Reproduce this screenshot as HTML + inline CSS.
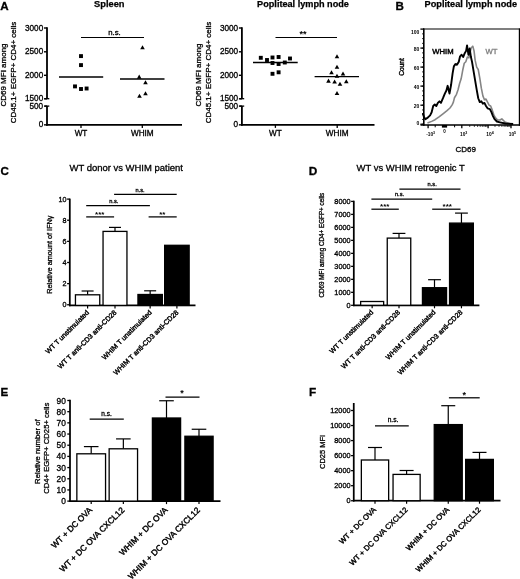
<!DOCTYPE html>
<html><head><meta charset="utf-8"><title>Figure</title>
<style>
html,body{margin:0;padding:0;background:#fff;}
svg{display:block;font-family:"Liberation Sans", sans-serif;}
</style></head><body>
<svg width="520" height="579" viewBox="0 0 520 579">
<rect x="0" y="0" width="520" height="579" fill="#fff"/>
<text x="0.2" y="10.3" font-size="11.6" text-anchor="start" font-weight="bold" fill="#000" stroke="#000" stroke-width="0.3">A</text>
<text x="109.3" y="6.8" font-size="9.3" text-anchor="middle" font-weight="bold" fill="#000" stroke="#000" stroke-width="0.25">Spleen</text>
<text x="303" y="6.8" font-size="9.15" text-anchor="middle" font-weight="bold" fill="#000" stroke="#000" stroke-width="0.25">Popliteal lymph node</text>
<line x1="47" y1="27.2" x2="47" y2="98.7" stroke="#000" stroke-width="1.8"/>
<line x1="47" y1="106.1" x2="47" y2="125.7" stroke="#000" stroke-width="1.8"/>
<line x1="46.1" y1="124.85" x2="182" y2="124.85" stroke="#000" stroke-width="1.7"/>
<line x1="44" y1="28" x2="47" y2="28" stroke="#000" stroke-width="1.4"/>
<text x="43.2" y="30.6" font-size="8.2" text-anchor="end" font-weight="normal" fill="#000" stroke="#000" stroke-width="0.3">3000</text>
<line x1="44" y1="51.8" x2="47" y2="51.8" stroke="#000" stroke-width="1.4"/>
<text x="43.2" y="54.4" font-size="8.2" text-anchor="end" font-weight="normal" fill="#000" stroke="#000" stroke-width="0.3">2500</text>
<line x1="44" y1="75.3" x2="47" y2="75.3" stroke="#000" stroke-width="1.4"/>
<text x="43.2" y="77.89999999999999" font-size="8.2" text-anchor="end" font-weight="normal" fill="#000" stroke="#000" stroke-width="0.3">2000</text>
<line x1="44" y1="98.8" x2="47" y2="98.8" stroke="#000" stroke-width="1.4"/>
<text x="43.2" y="101.39999999999999" font-size="8.2" text-anchor="end" font-weight="normal" fill="#000" stroke="#000" stroke-width="0.3">1500</text>
<line x1="44" y1="106.1" x2="47" y2="106.1" stroke="#000" stroke-width="1.4"/>
<text x="43.2" y="108.69999999999999" font-size="8.2" text-anchor="end" font-weight="normal" fill="#000" stroke="#000" stroke-width="0.3">500</text>
<line x1="44" y1="124.85" x2="47" y2="124.85" stroke="#000" stroke-width="1.4"/>
<text x="43.2" y="127.44999999999999" font-size="8.2" text-anchor="end" font-weight="normal" fill="#000" stroke="#000" stroke-width="0.3">0</text>
<line x1="44.7" y1="98.7" x2="49.3" y2="98.7" stroke="#000" stroke-width="1.3"/>
<line x1="44.7" y1="106.1" x2="49.3" y2="106.1" stroke="#000" stroke-width="1.3"/>
<line x1="81" y1="124.85" x2="81" y2="127.9" stroke="#000" stroke-width="1.3"/>
<text x="81" y="135.7" font-size="8.2" text-anchor="middle" font-weight="normal" fill="#000" stroke="#000" stroke-width="0.3">WT</text>
<line x1="142.3" y1="124.85" x2="142.3" y2="127.9" stroke="#000" stroke-width="1.3"/>
<text x="142.3" y="135.7" font-size="8.2" text-anchor="middle" font-weight="normal" fill="#000" stroke="#000" stroke-width="0.3">WHIM</text>
<text x="5.8" y="75" font-size="8" text-anchor="middle" font-weight="normal" fill="#000" stroke="#000" stroke-width="0.3" transform="rotate(-90 5.8 75)">CD69 MFI among</text>
<text x="15.6" y="72.5" font-size="8" text-anchor="middle" font-weight="normal" fill="#000" stroke="#000" stroke-width="0.3" transform="rotate(-90 15.6 72.5)">CD45.1+ EGFP+ CD4+ cells</text>
<rect x="79.05" y="54.15" width="3.9" height="3.9" fill="#000"/>
<rect x="79.05" y="63.15" width="3.9" height="3.9" fill="#000"/>
<rect x="73.05" y="84.45" width="3.9" height="3.9" fill="#000"/>
<rect x="79.05" y="87.05" width="3.9" height="3.9" fill="#000"/>
<rect x="84.65" y="86.55" width="3.9" height="3.9" fill="#000"/>
<line x1="59" y1="77" x2="103.2" y2="77" stroke="#000" stroke-width="1.3"/>
<line x1="120" y1="79" x2="164.5" y2="79" stroke="#000" stroke-width="1.3"/>
<polygon points="142.5,45.13 140.2,49.27 144.8,49.27" fill="#000"/>
<polygon points="139.2,74.53 136.9,78.67 141.5,78.67" fill="#000"/>
<polygon points="145.5,80.13 143.2,84.27 147.8,84.27" fill="#000"/>
<polygon points="139.5,93.73 137.2,97.87 141.8,97.87" fill="#000"/>
<polygon points="145.5,91.13 143.2,95.27 147.8,95.27" fill="#000"/>
<line x1="81" y1="37.5" x2="144" y2="37.5" stroke="#000" stroke-width="1.2"/>
<text x="114.5" y="35.3" font-size="7.8" text-anchor="middle" font-weight="normal" fill="#000" stroke="#000" stroke-width="0.3">n.s.</text>
<line x1="241.9" y1="27.2" x2="241.9" y2="98.7" stroke="#000" stroke-width="1.8"/>
<line x1="241.9" y1="106.1" x2="241.9" y2="125.7" stroke="#000" stroke-width="1.8"/>
<line x1="241.0" y1="124.85" x2="374.5" y2="124.85" stroke="#000" stroke-width="1.7"/>
<line x1="238.9" y1="28" x2="241.9" y2="28" stroke="#000" stroke-width="1.4"/>
<text x="238.1" y="30.6" font-size="8.2" text-anchor="end" font-weight="normal" fill="#000" stroke="#000" stroke-width="0.3">3000</text>
<line x1="238.9" y1="51.8" x2="241.9" y2="51.8" stroke="#000" stroke-width="1.4"/>
<text x="238.1" y="54.4" font-size="8.2" text-anchor="end" font-weight="normal" fill="#000" stroke="#000" stroke-width="0.3">2500</text>
<line x1="238.9" y1="75.3" x2="241.9" y2="75.3" stroke="#000" stroke-width="1.4"/>
<text x="238.1" y="77.89999999999999" font-size="8.2" text-anchor="end" font-weight="normal" fill="#000" stroke="#000" stroke-width="0.3">2000</text>
<line x1="238.9" y1="98.8" x2="241.9" y2="98.8" stroke="#000" stroke-width="1.4"/>
<text x="238.1" y="101.39999999999999" font-size="8.2" text-anchor="end" font-weight="normal" fill="#000" stroke="#000" stroke-width="0.3">1500</text>
<line x1="238.9" y1="106.1" x2="241.9" y2="106.1" stroke="#000" stroke-width="1.4"/>
<text x="238.1" y="108.69999999999999" font-size="8.2" text-anchor="end" font-weight="normal" fill="#000" stroke="#000" stroke-width="0.3">500</text>
<line x1="238.9" y1="124.85" x2="241.9" y2="124.85" stroke="#000" stroke-width="1.4"/>
<text x="238.1" y="127.44999999999999" font-size="8.2" text-anchor="end" font-weight="normal" fill="#000" stroke="#000" stroke-width="0.3">0</text>
<line x1="239.6" y1="98.7" x2="244.20000000000002" y2="98.7" stroke="#000" stroke-width="1.3"/>
<line x1="239.6" y1="106.1" x2="244.20000000000002" y2="106.1" stroke="#000" stroke-width="1.3"/>
<line x1="275.4" y1="124.85" x2="275.4" y2="127.9" stroke="#000" stroke-width="1.3"/>
<text x="275.4" y="135.7" font-size="8.2" text-anchor="middle" font-weight="normal" fill="#000" stroke="#000" stroke-width="0.3">WT</text>
<line x1="337.2" y1="124.85" x2="337.2" y2="127.9" stroke="#000" stroke-width="1.3"/>
<text x="337.2" y="135.7" font-size="8.2" text-anchor="middle" font-weight="normal" fill="#000" stroke="#000" stroke-width="0.3">WHIM</text>
<text x="201.3" y="75" font-size="8" text-anchor="middle" font-weight="normal" fill="#000" stroke="#000" stroke-width="0.3" transform="rotate(-90 201.3 75)">CD69 MFI among</text>
<text x="210.6" y="72.5" font-size="8" text-anchor="middle" font-weight="normal" fill="#000" stroke="#000" stroke-width="0.3" transform="rotate(-90 210.6 72.5)">CD45.1+ EGFP+ CD4+ cells</text>
<rect x="258.85" y="55.85" width="3.9" height="3.9" fill="#000"/>
<rect x="265.05" y="58.05" width="3.9" height="3.9" fill="#000"/>
<rect x="270.55" y="55.55" width="3.9" height="3.9" fill="#000"/>
<rect x="276.65" y="55.05" width="3.9" height="3.9" fill="#000"/>
<rect x="288.05" y="56.55" width="3.9" height="3.9" fill="#000"/>
<rect x="270.55" y="61.05" width="3.9" height="3.9" fill="#000"/>
<rect x="276.65" y="62.05" width="3.9" height="3.9" fill="#000"/>
<rect x="282.85" y="60.55" width="3.9" height="3.9" fill="#000"/>
<rect x="270.55" y="71.85" width="3.9" height="3.9" fill="#000"/>
<rect x="276.65" y="70.35" width="3.9" height="3.9" fill="#000"/>
<polygon points="337,54.23 334.7,58.37 339.3,58.37" fill="#000"/>
<polygon points="337,64.73 334.7,68.87 339.3,68.87" fill="#000"/>
<polygon points="331.5,70.23 329.2,74.37 333.8,74.37" fill="#000"/>
<polygon points="343,71.43 340.7,75.57 345.3,75.57" fill="#000"/>
<polygon points="337,73.63 334.7,77.77 339.3,77.77" fill="#000"/>
<polygon points="328.5,78.53 326.2,82.67 330.8,82.67" fill="#000"/>
<polygon points="334.6,79.43 332.3,83.57 336.9,83.57" fill="#000"/>
<polygon points="346.3,79.13 344.0,83.27 348.6,83.27" fill="#000"/>
<polygon points="340,81.63 337.7,85.77 342.3,85.77" fill="#000"/>
<polygon points="337,90.93 334.7,95.07 339.3,95.07" fill="#000"/>
<line x1="253" y1="62.5" x2="297.7" y2="62.5" stroke="#000" stroke-width="1.3"/>
<line x1="314.6" y1="76.6" x2="359" y2="76.6" stroke="#000" stroke-width="1.3"/>
<line x1="275.5" y1="37.5" x2="337" y2="37.5" stroke="#000" stroke-width="1.2"/>
<text x="303" y="37.2" font-size="9" text-anchor="middle" font-weight="bold" fill="#000">**</text>
<text x="395.5" y="10.2" font-size="11.6" text-anchor="start" font-weight="bold" fill="#000" stroke="#000" stroke-width="0.3">B</text>
<text x="470.8" y="6.8" font-size="9.2" text-anchor="middle" font-weight="bold" fill="#000" stroke="#000" stroke-width="0.25">Popliteal lymph node</text>
<line x1="423" y1="29" x2="520" y2="29" stroke="#555" stroke-width="1.3"/>
<line x1="519.4" y1="28.4" x2="519.4" y2="125.8" stroke="#000" stroke-width="1.2"/>
<line x1="423.8" y1="28.4" x2="423.8" y2="125.8" stroke="#000" stroke-width="1.6"/>
<line x1="420.5" y1="125" x2="520" y2="125" stroke="#000" stroke-width="1.7"/>
<line x1="420.4" y1="29.1" x2="424" y2="29.1" stroke="#000" stroke-width="1.3"/>
<text x="419.3" y="33.7" font-size="5" text-anchor="end" font-weight="bold" fill="#000">100</text>
<line x1="420.4" y1="48.1" x2="424" y2="48.1" stroke="#000" stroke-width="1.3"/>
<text x="419.3" y="50.6" font-size="5" text-anchor="end" font-weight="bold" fill="#000">80</text>
<line x1="420.4" y1="67.1" x2="424" y2="67.1" stroke="#000" stroke-width="1.3"/>
<text x="419.3" y="69.6" font-size="5" text-anchor="end" font-weight="bold" fill="#000">60</text>
<line x1="420.4" y1="86.1" x2="424" y2="86.1" stroke="#000" stroke-width="1.3"/>
<text x="419.3" y="88.6" font-size="5" text-anchor="end" font-weight="bold" fill="#000">40</text>
<line x1="420.4" y1="105.2" x2="424" y2="105.2" stroke="#000" stroke-width="1.3"/>
<text x="419.3" y="107.7" font-size="5" text-anchor="end" font-weight="bold" fill="#000">20</text>
<line x1="420.4" y1="124.2" x2="424" y2="124.2" stroke="#000" stroke-width="1.3"/>
<text x="419.3" y="125.0" font-size="5" text-anchor="end" font-weight="bold" fill="#000">0</text>
<line x1="422" y1="124.2" x2="423.5" y2="124.2" stroke="#000" stroke-width="0.8"/>
<line x1="422" y1="119.45" x2="423.5" y2="119.45" stroke="#000" stroke-width="0.8"/>
<line x1="422" y1="114.69" x2="423.5" y2="114.69" stroke="#000" stroke-width="0.8"/>
<line x1="422" y1="109.94" x2="423.5" y2="109.94" stroke="#000" stroke-width="0.8"/>
<line x1="422" y1="105.18" x2="423.5" y2="105.18" stroke="#000" stroke-width="0.8"/>
<line x1="422" y1="100.43" x2="423.5" y2="100.43" stroke="#000" stroke-width="0.8"/>
<line x1="422" y1="95.67" x2="423.5" y2="95.67" stroke="#000" stroke-width="0.8"/>
<line x1="422" y1="90.92" x2="423.5" y2="90.92" stroke="#000" stroke-width="0.8"/>
<line x1="422" y1="86.16" x2="423.5" y2="86.16" stroke="#000" stroke-width="0.8"/>
<line x1="422" y1="81.41" x2="423.5" y2="81.41" stroke="#000" stroke-width="0.8"/>
<line x1="422" y1="76.65" x2="423.5" y2="76.65" stroke="#000" stroke-width="0.8"/>
<line x1="422" y1="71.9" x2="423.5" y2="71.9" stroke="#000" stroke-width="0.8"/>
<line x1="422" y1="67.14" x2="423.5" y2="67.14" stroke="#000" stroke-width="0.8"/>
<line x1="422" y1="62.39" x2="423.5" y2="62.39" stroke="#000" stroke-width="0.8"/>
<line x1="422" y1="57.63" x2="423.5" y2="57.63" stroke="#000" stroke-width="0.8"/>
<line x1="422" y1="52.88" x2="423.5" y2="52.88" stroke="#000" stroke-width="0.8"/>
<line x1="422" y1="48.12" x2="423.5" y2="48.12" stroke="#000" stroke-width="0.8"/>
<line x1="422" y1="43.37" x2="423.5" y2="43.37" stroke="#000" stroke-width="0.8"/>
<line x1="422" y1="38.61" x2="423.5" y2="38.61" stroke="#000" stroke-width="0.8"/>
<line x1="422" y1="33.86" x2="423.5" y2="33.86" stroke="#000" stroke-width="0.8"/>
<text x="404" y="67" font-size="6.6" text-anchor="middle" font-weight="normal" fill="#000" stroke="#000" stroke-width="0.35" transform="rotate(-90 404 67)">Count</text>
<polyline points="427.45,123.07 431.65,121.37 435.06,119.66 439.41,116.55 442.98,113.76 446.71,110.81 449.97,108.01 452.14,104.91 453.39,102.11 454.47,97.76 456.49,94.35 458.04,89.69 459.6,83.48 461.15,78.82 462.7,70.28 464.25,63.29 465.81,61.74 467.36,57.08 468.91,57.86 470.0,52.42 471.24,47.76 472.8,46.21 474.04,50.87 475.12,60.19 476.68,67.17 478.23,69.5 479.78,78.04 481.34,88.14 482.89,95.9 484.44,99.78 485.99,99.01 487.55,102.11 489.1,105.22 490.65,105.99 492.2,109.88 493.76,114.53 495.31,117.64 497.64,119.97 499.97,119.97 501.83,118.88 504.94,121.99 510.06,123.85" fill="none" stroke="#858585" stroke-width="1.6" stroke-linejoin="round"/>
<polyline points="422.8,112.98 423.88,116.86 425.43,119.19 427.76,117.64 430.09,115.31 431.65,112.2 433.2,105.99 434.75,104.44 436.3,105.99 437.86,102.89 439.41,101.34 440.96,102.89 443.29,97.45 444.84,93.57 446.4,90.47 447.64,85.81 449.5,93.57 451.06,85.03 452.61,73.39 453.85,66.4 455.4,64.07 456.96,64.84 458.82,61.74 460.06,56.3 461.61,54.75 463.17,57.08 464.72,53.2 466.12,50.87 467.05,45.43 468.45,54.75 469.69,48.54 470.93,57.08 472.02,61.74 473.57,71.06 475.12,80.37 476.68,89.69 478.23,98.23 479.78,102.11 481.34,101.34 482.89,103.66 484.44,102.89 485.99,105.99 487.55,108.32 489.88,109.1 491.43,112.2 492.98,116.09 494.53,119.19 496.86,121.52 499.97,122.3 505.4,123.54 513.17,124.01" fill="none" stroke="#000" stroke-width="1.9" stroke-linejoin="round"/>
<text x="432.2" y="53.8" font-size="7.7" text-anchor="start" font-weight="normal" fill="#000" stroke="#000" stroke-width="0.45">WHIM</text>
<text x="485.5" y="53.8" font-size="7.7" text-anchor="start" font-weight="normal" fill="#808080" stroke="#808080" stroke-width="0.35">WT</text>
<text x="430.6" y="136.3" font-size="4.8" font-weight="bold" text-anchor="middle">-10<tspan dy="-2.4" font-size="3.6">3</tspan></text>
<text x="463.7" y="136.3" font-size="4.8" font-weight="bold" text-anchor="middle">10<tspan dy="-2.4" font-size="3.6">3</tspan></text>
<text x="490" y="136.3" font-size="4.8" font-weight="bold" text-anchor="middle">10<tspan dy="-2.4" font-size="3.6">4</tspan></text>
<text x="512.4" y="136.3" font-size="4.8" font-weight="bold" text-anchor="middle">10<tspan dy="-2.4" font-size="3.6">5</tspan></text>
<text x="444.6" y="133" font-size="4.5" text-anchor="middle" font-weight="bold" fill="#000">0</text>
<rect x="441.9" y="125" width="5.2" height="2.6" fill="#000"/>
<line x1="428.1" y1="125" x2="428.1" y2="128.2" stroke="#000" stroke-width="1.3"/>
<line x1="461.8" y1="125" x2="461.8" y2="128.2" stroke="#000" stroke-width="1.3"/>
<line x1="488.1" y1="125" x2="488.1" y2="128.2" stroke="#000" stroke-width="1.3"/>
<line x1="511" y1="125" x2="511" y2="128.2" stroke="#000" stroke-width="1.3"/>
<line x1="435.2" y1="125" x2="435.2" y2="127.3" stroke="#000" stroke-width="1.0"/>
<line x1="454.6" y1="125" x2="454.6" y2="127.3" stroke="#000" stroke-width="1.0"/>
<line x1="469.72" y1="125" x2="469.72" y2="127" stroke="#000" stroke-width="0.7"/>
<line x1="494.99" y1="125" x2="494.99" y2="127" stroke="#000" stroke-width="0.7"/>
<line x1="474.35" y1="125" x2="474.35" y2="127" stroke="#000" stroke-width="0.7"/>
<line x1="499.03" y1="125" x2="499.03" y2="127" stroke="#000" stroke-width="0.7"/>
<line x1="477.63" y1="125" x2="477.63" y2="127" stroke="#000" stroke-width="0.7"/>
<line x1="501.89" y1="125" x2="501.89" y2="127" stroke="#000" stroke-width="0.7"/>
<line x1="480.18" y1="125" x2="480.18" y2="127" stroke="#000" stroke-width="0.7"/>
<line x1="504.11" y1="125" x2="504.11" y2="127" stroke="#000" stroke-width="0.7"/>
<line x1="482.27" y1="125" x2="482.27" y2="127" stroke="#000" stroke-width="0.7"/>
<line x1="505.92" y1="125" x2="505.92" y2="127" stroke="#000" stroke-width="0.7"/>
<line x1="484.03" y1="125" x2="484.03" y2="127" stroke="#000" stroke-width="0.7"/>
<line x1="507.45" y1="125" x2="507.45" y2="127" stroke="#000" stroke-width="0.7"/>
<line x1="485.55" y1="125" x2="485.55" y2="127" stroke="#000" stroke-width="0.7"/>
<line x1="508.78" y1="125" x2="508.78" y2="127" stroke="#000" stroke-width="0.7"/>
<line x1="486.9" y1="125" x2="486.9" y2="127" stroke="#000" stroke-width="0.7"/>
<line x1="509.95" y1="125" x2="509.95" y2="127" stroke="#000" stroke-width="0.7"/>
<text x="465.7" y="152.3" font-size="8" text-anchor="middle" font-weight="normal" fill="#000" stroke="#000" stroke-width="0.3">CD69</text>
<text x="0.6" y="175" font-size="11.6" text-anchor="start" font-weight="bold" fill="#000" stroke="#000" stroke-width="0.3">C</text>
<text x="126.2" y="171.4" font-size="9.48" text-anchor="middle" font-weight="normal" fill="#000" stroke="#000" stroke-width="0.3">WT donor vs WHIM patient</text>
<line x1="69.8" y1="198.6" x2="69.8" y2="306.25" stroke="#000" stroke-width="1.75"/>
<line x1="69.0" y1="305.4" x2="195.5" y2="305.4" stroke="#000" stroke-width="1.7"/>
<line x1="67.1" y1="199.1" x2="69.8" y2="199.1" stroke="#000" stroke-width="1.3"/>
<text x="66.6" y="201.69" font-size="7.2" text-anchor="end" font-weight="normal" fill="#000" stroke="#000" stroke-width="0.3">10</text>
<line x1="67.1" y1="220.23" x2="69.8" y2="220.23" stroke="#000" stroke-width="1.3"/>
<text x="66.6" y="222.82" font-size="7.2" text-anchor="end" font-weight="normal" fill="#000" stroke="#000" stroke-width="0.3">8</text>
<line x1="67.1" y1="241.36" x2="69.8" y2="241.36" stroke="#000" stroke-width="1.3"/>
<text x="66.6" y="243.95" font-size="7.2" text-anchor="end" font-weight="normal" fill="#000" stroke="#000" stroke-width="0.3">6</text>
<line x1="67.1" y1="262.49" x2="69.8" y2="262.49" stroke="#000" stroke-width="1.3"/>
<text x="66.6" y="265.08" font-size="7.2" text-anchor="end" font-weight="normal" fill="#000" stroke="#000" stroke-width="0.3">4</text>
<line x1="67.1" y1="283.62" x2="69.8" y2="283.62" stroke="#000" stroke-width="1.3"/>
<text x="66.6" y="286.21" font-size="7.2" text-anchor="end" font-weight="normal" fill="#000" stroke="#000" stroke-width="0.3">2</text>
<line x1="67.1" y1="304.75" x2="69.8" y2="304.75" stroke="#000" stroke-width="1.3"/>
<text x="66.6" y="307.34" font-size="7.2" text-anchor="end" font-weight="normal" fill="#000" stroke="#000" stroke-width="0.3">0</text>
<line x1="87.6" y1="291" x2="87.6" y2="294.8" stroke="#000" stroke-width="1.2"/>
<line x1="81.6" y1="291" x2="93.6" y2="291" stroke="#000" stroke-width="1.2"/>
<rect x="75.45" y="294.8" width="24.3" height="10.6" fill="#fff" stroke="#000" stroke-width="1.3"/>
<line x1="87.6" y1="305.4" x2="87.6" y2="308.4" stroke="#000" stroke-width="1.2"/>
<text x="89.6" y="312.9" font-size="7.0" text-anchor="end" font-weight="normal" fill="#000" stroke="#000" stroke-width="0.4" transform="rotate(-45 89.6 312.9)">WT T unstimulated</text>
<line x1="115.0" y1="227.4" x2="115.0" y2="231.4" stroke="#000" stroke-width="1.2"/>
<line x1="109.0" y1="227.4" x2="121.0" y2="227.4" stroke="#000" stroke-width="1.2"/>
<rect x="103.05" y="231.4" width="23.9" height="74.0" fill="#fff" stroke="#000" stroke-width="1.3"/>
<line x1="115.0" y1="305.4" x2="115.0" y2="308.4" stroke="#000" stroke-width="1.2"/>
<text x="117.0" y="312.9" font-size="7.0" text-anchor="end" font-weight="normal" fill="#000" stroke="#000" stroke-width="0.4" transform="rotate(-45 117.0 312.9)">WT T anti-CD3 anti-CD28</text>
<line x1="150.15" y1="290.8" x2="150.15" y2="294.5" stroke="#000" stroke-width="1.2"/>
<line x1="144.15" y1="290.8" x2="156.15" y2="290.8" stroke="#000" stroke-width="1.2"/>
<rect x="137.95" y="294.5" width="24.4" height="10.9" fill="#000" stroke="#000" stroke-width="1.3"/>
<line x1="150.15" y1="305.4" x2="150.15" y2="308.4" stroke="#000" stroke-width="1.2"/>
<text x="152.15" y="312.9" font-size="7.0" text-anchor="end" font-weight="normal" fill="#000" stroke="#000" stroke-width="0.4" transform="rotate(-45 152.15 312.9)">WHIM T unstimulated</text>
<rect x="164.65" y="245.3" width="24.5" height="60.1" fill="#000" stroke="#000" stroke-width="1.3"/>
<line x1="176.9" y1="305.4" x2="176.9" y2="308.4" stroke="#000" stroke-width="1.2"/>
<text x="178.9" y="312.9" font-size="7.0" text-anchor="end" font-weight="normal" fill="#000" stroke="#000" stroke-width="0.4" transform="rotate(-45 178.9 312.9)">WHIM T anti-CD3 anti-CD28</text>
<text x="52.4" y="254.6" font-size="7.3" text-anchor="middle" font-weight="normal" fill="#000" stroke="#000" stroke-width="0.3" transform="rotate(-90 52.4 254.6)">Relative amount of IFNγ</text>
<line x1="86.2" y1="216.9" x2="114.1" y2="216.9" stroke="#000" stroke-width="1.25"/>
<text x="99.7" y="216.7" font-size="8" text-anchor="middle" font-weight="bold" fill="#000">***</text>
<line x1="86.2" y1="205.5" x2="149.9" y2="205.5" stroke="#000" stroke-width="1.25"/>
<text x="113.8" y="203" font-size="5.7" text-anchor="middle" font-weight="normal" fill="#000" stroke="#000" stroke-width="0.3">n.s.</text>
<line x1="114.1" y1="194.4" x2="176.7" y2="194.4" stroke="#000" stroke-width="1.25"/>
<text x="140.1" y="192" font-size="5.7" text-anchor="middle" font-weight="normal" fill="#000" stroke="#000" stroke-width="0.3">n.s.</text>
<line x1="148.6" y1="216.9" x2="176.7" y2="216.9" stroke="#000" stroke-width="1.25"/>
<text x="162.3" y="216.7" font-size="8" text-anchor="middle" font-weight="bold" fill="#000">**</text>
<text x="308.8" y="175.2" font-size="11.8" text-anchor="start" font-weight="bold" fill="#000" stroke="#000" stroke-width="0.3">D</text>
<text x="410.7" y="171" font-size="9.45" text-anchor="middle" font-weight="normal" fill="#000" stroke="#000" stroke-width="0.3">WT vs WHIM retrogenic T</text>
<line x1="353.8" y1="200.7" x2="353.8" y2="306.15000000000003" stroke="#000" stroke-width="1.75"/>
<line x1="353.0" y1="305.3" x2="479.4" y2="305.3" stroke="#000" stroke-width="1.7"/>
<line x1="351.1" y1="201.4" x2="353.8" y2="201.4" stroke="#000" stroke-width="1.3"/>
<text x="350.6" y="204.03" font-size="7.3" text-anchor="end" font-weight="normal" fill="#000" stroke="#000" stroke-width="0.3">8000</text>
<line x1="351.1" y1="214.39" x2="353.8" y2="214.39" stroke="#000" stroke-width="1.3"/>
<text x="350.6" y="217.02" font-size="7.3" text-anchor="end" font-weight="normal" fill="#000" stroke="#000" stroke-width="0.3">7000</text>
<line x1="351.1" y1="227.38" x2="353.8" y2="227.38" stroke="#000" stroke-width="1.3"/>
<text x="350.6" y="230.01" font-size="7.3" text-anchor="end" font-weight="normal" fill="#000" stroke="#000" stroke-width="0.3">6000</text>
<line x1="351.1" y1="240.37" x2="353.8" y2="240.37" stroke="#000" stroke-width="1.3"/>
<text x="350.6" y="243.0" font-size="7.3" text-anchor="end" font-weight="normal" fill="#000" stroke="#000" stroke-width="0.3">5000</text>
<line x1="351.1" y1="253.36" x2="353.8" y2="253.36" stroke="#000" stroke-width="1.3"/>
<text x="350.6" y="255.99" font-size="7.3" text-anchor="end" font-weight="normal" fill="#000" stroke="#000" stroke-width="0.3">4000</text>
<line x1="351.1" y1="266.35" x2="353.8" y2="266.35" stroke="#000" stroke-width="1.3"/>
<text x="350.6" y="268.98" font-size="7.3" text-anchor="end" font-weight="normal" fill="#000" stroke="#000" stroke-width="0.3">3000</text>
<line x1="351.1" y1="279.34" x2="353.8" y2="279.34" stroke="#000" stroke-width="1.3"/>
<text x="350.6" y="281.97" font-size="7.3" text-anchor="end" font-weight="normal" fill="#000" stroke="#000" stroke-width="0.3">2000</text>
<line x1="351.1" y1="292.33" x2="353.8" y2="292.33" stroke="#000" stroke-width="1.3"/>
<text x="350.6" y="294.96" font-size="7.3" text-anchor="end" font-weight="normal" fill="#000" stroke="#000" stroke-width="0.3">1000</text>
<line x1="351.1" y1="305.32" x2="353.8" y2="305.32" stroke="#000" stroke-width="1.3"/>
<text x="350.6" y="307.95" font-size="7.3" text-anchor="end" font-weight="normal" fill="#000" stroke="#000" stroke-width="0.3">0</text>
<rect x="360.65" y="301.5" width="23.0" height="3.8" fill="#fff" stroke="#000" stroke-width="1.3"/>
<line x1="372.15" y1="305.3" x2="372.15" y2="308.3" stroke="#000" stroke-width="1.2"/>
<text x="373.65" y="312.8" font-size="7.0" text-anchor="end" font-weight="normal" fill="#000" stroke="#000" stroke-width="0.4" transform="rotate(-45 373.65 312.8)">WT T unstimulated</text>
<line x1="399.0" y1="233.4" x2="399.0" y2="238.1" stroke="#000" stroke-width="1.2"/>
<line x1="392.6" y1="233.4" x2="405.4" y2="233.4" stroke="#000" stroke-width="1.2"/>
<rect x="387.25" y="238.1" width="23.5" height="67.2" fill="#fff" stroke="#000" stroke-width="1.3"/>
<line x1="399.0" y1="305.3" x2="399.0" y2="308.3" stroke="#000" stroke-width="1.2"/>
<text x="400.5" y="312.8" font-size="7.0" text-anchor="end" font-weight="normal" fill="#000" stroke="#000" stroke-width="0.4" transform="rotate(-45 400.5 312.8)">WT T anti-CD3 anti-CD28</text>
<line x1="434.5" y1="279.7" x2="434.5" y2="287.7" stroke="#000" stroke-width="1.2"/>
<line x1="428.1" y1="279.7" x2="440.9" y2="279.7" stroke="#000" stroke-width="1.2"/>
<rect x="422.45" y="287.7" width="24.1" height="17.6" fill="#000" stroke="#000" stroke-width="1.3"/>
<line x1="434.5" y1="305.3" x2="434.5" y2="308.3" stroke="#000" stroke-width="1.2"/>
<text x="436.0" y="312.8" font-size="7.0" text-anchor="end" font-weight="normal" fill="#000" stroke="#000" stroke-width="0.4" transform="rotate(-45 436.0 312.8)">WHIM T unstimulated</text>
<line x1="461.45" y1="213.1" x2="461.45" y2="223.1" stroke="#000" stroke-width="1.2"/>
<line x1="455.05" y1="213.1" x2="467.84999999999997" y2="213.1" stroke="#000" stroke-width="1.2"/>
<rect x="449.55" y="223.1" width="23.8" height="82.2" fill="#000" stroke="#000" stroke-width="1.3"/>
<line x1="461.45" y1="305.3" x2="461.45" y2="308.3" stroke="#000" stroke-width="1.2"/>
<text x="462.95" y="312.8" font-size="7.0" text-anchor="end" font-weight="normal" fill="#000" stroke="#000" stroke-width="0.4" transform="rotate(-45 462.95 312.8)">WHIM T anti-CD3 anti-CD28</text>
<text x="324.4" y="245.2" font-size="6.3" text-anchor="middle" font-weight="normal" fill="#000" stroke="#000" stroke-width="0.3" transform="rotate(-90 324.4 245.2)">CD69 MFI among CD4+ EGFP+ cells</text>
<line x1="371.4" y1="209.2" x2="398.8" y2="209.2" stroke="#000" stroke-width="1.25"/>
<text x="384.7" y="209" font-size="8" text-anchor="middle" font-weight="bold" fill="#000">***</text>
<line x1="371.4" y1="199.2" x2="432.2" y2="199.2" stroke="#000" stroke-width="1.25"/>
<text x="399.5" y="196.3" font-size="5.7" text-anchor="middle" font-weight="normal" fill="#000" stroke="#000" stroke-width="0.3">n.s.</text>
<line x1="399.4" y1="189.1" x2="460.5" y2="189.1" stroke="#000" stroke-width="1.25"/>
<text x="432.2" y="186.4" font-size="5.7" text-anchor="middle" font-weight="normal" fill="#000" stroke="#000" stroke-width="0.3">n.s.</text>
<line x1="432.2" y1="209.2" x2="460.5" y2="209.2" stroke="#000" stroke-width="1.25"/>
<text x="447.2" y="209" font-size="8" text-anchor="middle" font-weight="bold" fill="#000">***</text>
<text x="0.5" y="395.6" font-size="11.6" text-anchor="start" font-weight="bold" fill="#000" stroke="#000" stroke-width="0.3">E</text>
<line x1="70" y1="399.8" x2="70" y2="501.95000000000005" stroke="#000" stroke-width="1.75"/>
<line x1="69.2" y1="501.1" x2="220.5" y2="501.1" stroke="#000" stroke-width="1.7"/>
<line x1="67.3" y1="400.5" x2="70" y2="400.5" stroke="#000" stroke-width="1.3"/>
<text x="65.8" y="403.52" font-size="8.4" text-anchor="end" font-weight="normal" fill="#000" stroke="#000" stroke-width="0.3">90</text>
<line x1="67.3" y1="411.68" x2="70" y2="411.68" stroke="#000" stroke-width="1.3"/>
<text x="65.8" y="414.7" font-size="8.4" text-anchor="end" font-weight="normal" fill="#000" stroke="#000" stroke-width="0.3">80</text>
<line x1="67.3" y1="422.86" x2="70" y2="422.86" stroke="#000" stroke-width="1.3"/>
<text x="65.8" y="425.88" font-size="8.4" text-anchor="end" font-weight="normal" fill="#000" stroke="#000" stroke-width="0.3">70</text>
<line x1="67.3" y1="434.04" x2="70" y2="434.04" stroke="#000" stroke-width="1.3"/>
<text x="65.8" y="437.06" font-size="8.4" text-anchor="end" font-weight="normal" fill="#000" stroke="#000" stroke-width="0.3">60</text>
<line x1="67.3" y1="445.22" x2="70" y2="445.22" stroke="#000" stroke-width="1.3"/>
<text x="65.8" y="448.24" font-size="8.4" text-anchor="end" font-weight="normal" fill="#000" stroke="#000" stroke-width="0.3">50</text>
<line x1="67.3" y1="456.4" x2="70" y2="456.4" stroke="#000" stroke-width="1.3"/>
<text x="65.8" y="459.42" font-size="8.4" text-anchor="end" font-weight="normal" fill="#000" stroke="#000" stroke-width="0.3">40</text>
<line x1="67.3" y1="467.58" x2="70" y2="467.58" stroke="#000" stroke-width="1.3"/>
<text x="65.8" y="470.6" font-size="8.4" text-anchor="end" font-weight="normal" fill="#000" stroke="#000" stroke-width="0.3">30</text>
<line x1="67.3" y1="478.76" x2="70" y2="478.76" stroke="#000" stroke-width="1.3"/>
<text x="65.8" y="481.78" font-size="8.4" text-anchor="end" font-weight="normal" fill="#000" stroke="#000" stroke-width="0.3">20</text>
<line x1="67.3" y1="489.94" x2="70" y2="489.94" stroke="#000" stroke-width="1.3"/>
<text x="65.8" y="492.96" font-size="8.4" text-anchor="end" font-weight="normal" fill="#000" stroke="#000" stroke-width="0.3">10</text>
<line x1="67.3" y1="501.12" x2="70" y2="501.12" stroke="#000" stroke-width="1.3"/>
<text x="65.8" y="504.14" font-size="8.4" text-anchor="end" font-weight="normal" fill="#000" stroke="#000" stroke-width="0.3">0</text>
<line x1="91.2" y1="446.6" x2="91.2" y2="453.8" stroke="#000" stroke-width="1.2"/>
<line x1="83.9" y1="446.6" x2="98.5" y2="446.6" stroke="#000" stroke-width="1.2"/>
<rect x="76.85" y="453.8" width="28.7" height="47.3" fill="#fff" stroke="#000" stroke-width="1.3"/>
<line x1="91.2" y1="501.1" x2="91.2" y2="504.1" stroke="#000" stroke-width="1.2"/>
<text x="92.8" y="510.6" font-size="8.4" text-anchor="end" font-weight="normal" fill="#000" stroke="#000" stroke-width="0.4" transform="rotate(-45 92.8 510.6)">WT + DC OVA</text>
<line x1="123.35" y1="438.9" x2="123.35" y2="448.8" stroke="#000" stroke-width="1.2"/>
<line x1="116.05" y1="438.9" x2="130.65" y2="438.9" stroke="#000" stroke-width="1.2"/>
<rect x="109.15" y="448.8" width="28.4" height="52.3" fill="#fff" stroke="#000" stroke-width="1.3"/>
<line x1="123.35" y1="501.1" x2="123.35" y2="504.1" stroke="#000" stroke-width="1.2"/>
<text x="124.95" y="510.6" font-size="8.4" text-anchor="end" font-weight="normal" fill="#000" stroke="#000" stroke-width="0.4" transform="rotate(-45 124.95 510.6)">WT + DC OVA CXCL12</text>
<line x1="166.5" y1="400.75" x2="166.5" y2="418" stroke="#000" stroke-width="1.2"/>
<line x1="159.2" y1="400.75" x2="173.8" y2="400.75" stroke="#000" stroke-width="1.2"/>
<rect x="152.4" y="418" width="28.2" height="83.1" fill="#000" stroke="#000" stroke-width="1.3"/>
<line x1="166.5" y1="501.1" x2="166.5" y2="504.1" stroke="#000" stroke-width="1.2"/>
<text x="168.1" y="510.6" font-size="8.4" text-anchor="end" font-weight="normal" fill="#000" stroke="#000" stroke-width="0.4" transform="rotate(-45 168.1 510.6)">WHIM + DC OVA</text>
<line x1="199.0" y1="429.25" x2="199.0" y2="436.25" stroke="#000" stroke-width="1.2"/>
<line x1="191.7" y1="429.25" x2="206.3" y2="429.25" stroke="#000" stroke-width="1.2"/>
<rect x="184.9" y="436.25" width="28.2" height="64.85" fill="#000" stroke="#000" stroke-width="1.3"/>
<line x1="199.0" y1="501.1" x2="199.0" y2="504.1" stroke="#000" stroke-width="1.2"/>
<text x="200.6" y="510.6" font-size="8.4" text-anchor="end" font-weight="normal" fill="#000" stroke="#000" stroke-width="0.4" transform="rotate(-45 200.6 510.6)">WHIM + DC OVA CXCL12</text>
<text x="39.7" y="451.6" font-size="7.7" text-anchor="middle" font-weight="normal" fill="#000" stroke="#000" stroke-width="0.3" transform="rotate(-90 39.7 451.6)">Relative number of</text>
<text x="49.5" y="448.2" font-size="7.7" text-anchor="middle" font-weight="normal" fill="#000" stroke="#000" stroke-width="0.3" transform="rotate(-90 49.5 448.2)">CD4+ EGFP+ CD25+ cells</text>
<line x1="89.7" y1="419.2" x2="123.8" y2="419.2" stroke="#000" stroke-width="1.25"/>
<text x="106.6" y="416.4" font-size="6.5" text-anchor="middle" font-weight="normal" fill="#000" stroke="#000" stroke-width="0.3">n.s.</text>
<line x1="165.5" y1="397" x2="199.5" y2="397" stroke="#000" stroke-width="1.25"/>
<text x="182" y="395.7" font-size="9" text-anchor="middle" font-weight="bold" fill="#000">*</text>
<text x="309" y="395.5" font-size="11.8" text-anchor="start" font-weight="bold" fill="#000" stroke="#000" stroke-width="0.3">F</text>
<line x1="353.75" y1="403" x2="353.75" y2="501.55" stroke="#000" stroke-width="1.75"/>
<line x1="352.95" y1="500.7" x2="500.5" y2="500.7" stroke="#000" stroke-width="1.7"/>
<line x1="351.05" y1="410.5" x2="353.75" y2="410.5" stroke="#000" stroke-width="1.3"/>
<text x="350.55" y="413.13" font-size="7.3" text-anchor="end" font-weight="normal" fill="#000" stroke="#000" stroke-width="0.3">12000</text>
<line x1="351.05" y1="425.54" x2="353.75" y2="425.54" stroke="#000" stroke-width="1.3"/>
<text x="350.55" y="428.17" font-size="7.3" text-anchor="end" font-weight="normal" fill="#000" stroke="#000" stroke-width="0.3">10000</text>
<line x1="351.05" y1="440.58" x2="353.75" y2="440.58" stroke="#000" stroke-width="1.3"/>
<text x="350.55" y="443.21" font-size="7.3" text-anchor="end" font-weight="normal" fill="#000" stroke="#000" stroke-width="0.3">8000</text>
<line x1="351.05" y1="455.62" x2="353.75" y2="455.62" stroke="#000" stroke-width="1.3"/>
<text x="350.55" y="458.25" font-size="7.3" text-anchor="end" font-weight="normal" fill="#000" stroke="#000" stroke-width="0.3">6000</text>
<line x1="351.05" y1="470.66" x2="353.75" y2="470.66" stroke="#000" stroke-width="1.3"/>
<text x="350.55" y="473.29" font-size="7.3" text-anchor="end" font-weight="normal" fill="#000" stroke="#000" stroke-width="0.3">4000</text>
<line x1="351.05" y1="485.7" x2="353.75" y2="485.7" stroke="#000" stroke-width="1.3"/>
<text x="350.55" y="488.33" font-size="7.3" text-anchor="end" font-weight="normal" fill="#000" stroke="#000" stroke-width="0.3">2000</text>
<line x1="351.05" y1="500.74" x2="353.75" y2="500.74" stroke="#000" stroke-width="1.3"/>
<text x="350.55" y="503.37" font-size="7.3" text-anchor="end" font-weight="normal" fill="#000" stroke="#000" stroke-width="0.3">0</text>
<line x1="375.0" y1="447.5" x2="375.0" y2="460" stroke="#000" stroke-width="1.2"/>
<line x1="368.0" y1="447.5" x2="382.0" y2="447.5" stroke="#000" stroke-width="1.2"/>
<rect x="361.35" y="460" width="27.3" height="40.7" fill="#fff" stroke="#000" stroke-width="1.3"/>
<line x1="375.0" y1="500.7" x2="375.0" y2="503.7" stroke="#000" stroke-width="1.2"/>
<text x="376.7" y="510.2" font-size="7.55" text-anchor="end" font-weight="normal" fill="#000" stroke="#000" stroke-width="0.4" transform="rotate(-45 376.7 510.2)">WT + DC OVA</text>
<line x1="406.6" y1="470.5" x2="406.6" y2="474.4" stroke="#000" stroke-width="1.2"/>
<line x1="399.6" y1="470.5" x2="413.6" y2="470.5" stroke="#000" stroke-width="1.2"/>
<rect x="393.05" y="474.4" width="27.1" height="26.3" fill="#fff" stroke="#000" stroke-width="1.3"/>
<line x1="406.6" y1="500.7" x2="406.6" y2="503.7" stroke="#000" stroke-width="1.2"/>
<text x="408.3" y="510.2" font-size="7.55" text-anchor="end" font-weight="normal" fill="#000" stroke="#000" stroke-width="0.4" transform="rotate(-45 408.3 510.2)">WT + DC OVA CXCL12</text>
<line x1="448.25" y1="405.7" x2="448.25" y2="424.6" stroke="#000" stroke-width="1.2"/>
<line x1="441.25" y1="405.7" x2="455.25" y2="405.7" stroke="#000" stroke-width="1.2"/>
<rect x="434.25" y="424.6" width="28.0" height="76.1" fill="#000" stroke="#000" stroke-width="1.3"/>
<line x1="448.25" y1="500.7" x2="448.25" y2="503.7" stroke="#000" stroke-width="1.2"/>
<text x="449.95" y="510.2" font-size="7.55" text-anchor="end" font-weight="normal" fill="#000" stroke="#000" stroke-width="0.4" transform="rotate(-45 449.95 510.2)">WHIM + DC OVA</text>
<line x1="479.5" y1="452.4" x2="479.5" y2="459.4" stroke="#000" stroke-width="1.2"/>
<line x1="472.5" y1="452.4" x2="486.5" y2="452.4" stroke="#000" stroke-width="1.2"/>
<rect x="465.65" y="459.4" width="27.7" height="41.3" fill="#000" stroke="#000" stroke-width="1.3"/>
<line x1="479.5" y1="500.7" x2="479.5" y2="503.7" stroke="#000" stroke-width="1.2"/>
<text x="481.2" y="510.2" font-size="7.55" text-anchor="end" font-weight="normal" fill="#000" stroke="#000" stroke-width="0.4" transform="rotate(-45 481.2 510.2)">WHIM + DC OVA CXCL12</text>
<text x="325" y="451.9" font-size="7.5" text-anchor="middle" font-weight="normal" fill="#000" stroke="#000" stroke-width="0.3" transform="rotate(-90 325 451.9)">CD25 MFI</text>
<line x1="375" y1="425.75" x2="408.75" y2="425.75" stroke="#000" stroke-width="1.25"/>
<text x="393" y="421.8" font-size="6.6" text-anchor="middle" font-weight="normal" fill="#000" stroke="#000" stroke-width="0.3">n.s.</text>
<line x1="448.9" y1="397.8" x2="479.7" y2="397.8" stroke="#000" stroke-width="1.25"/>
<text x="464.2" y="397.6" font-size="9" text-anchor="middle" font-weight="bold" fill="#000">*</text>
</svg>
</body></html>
